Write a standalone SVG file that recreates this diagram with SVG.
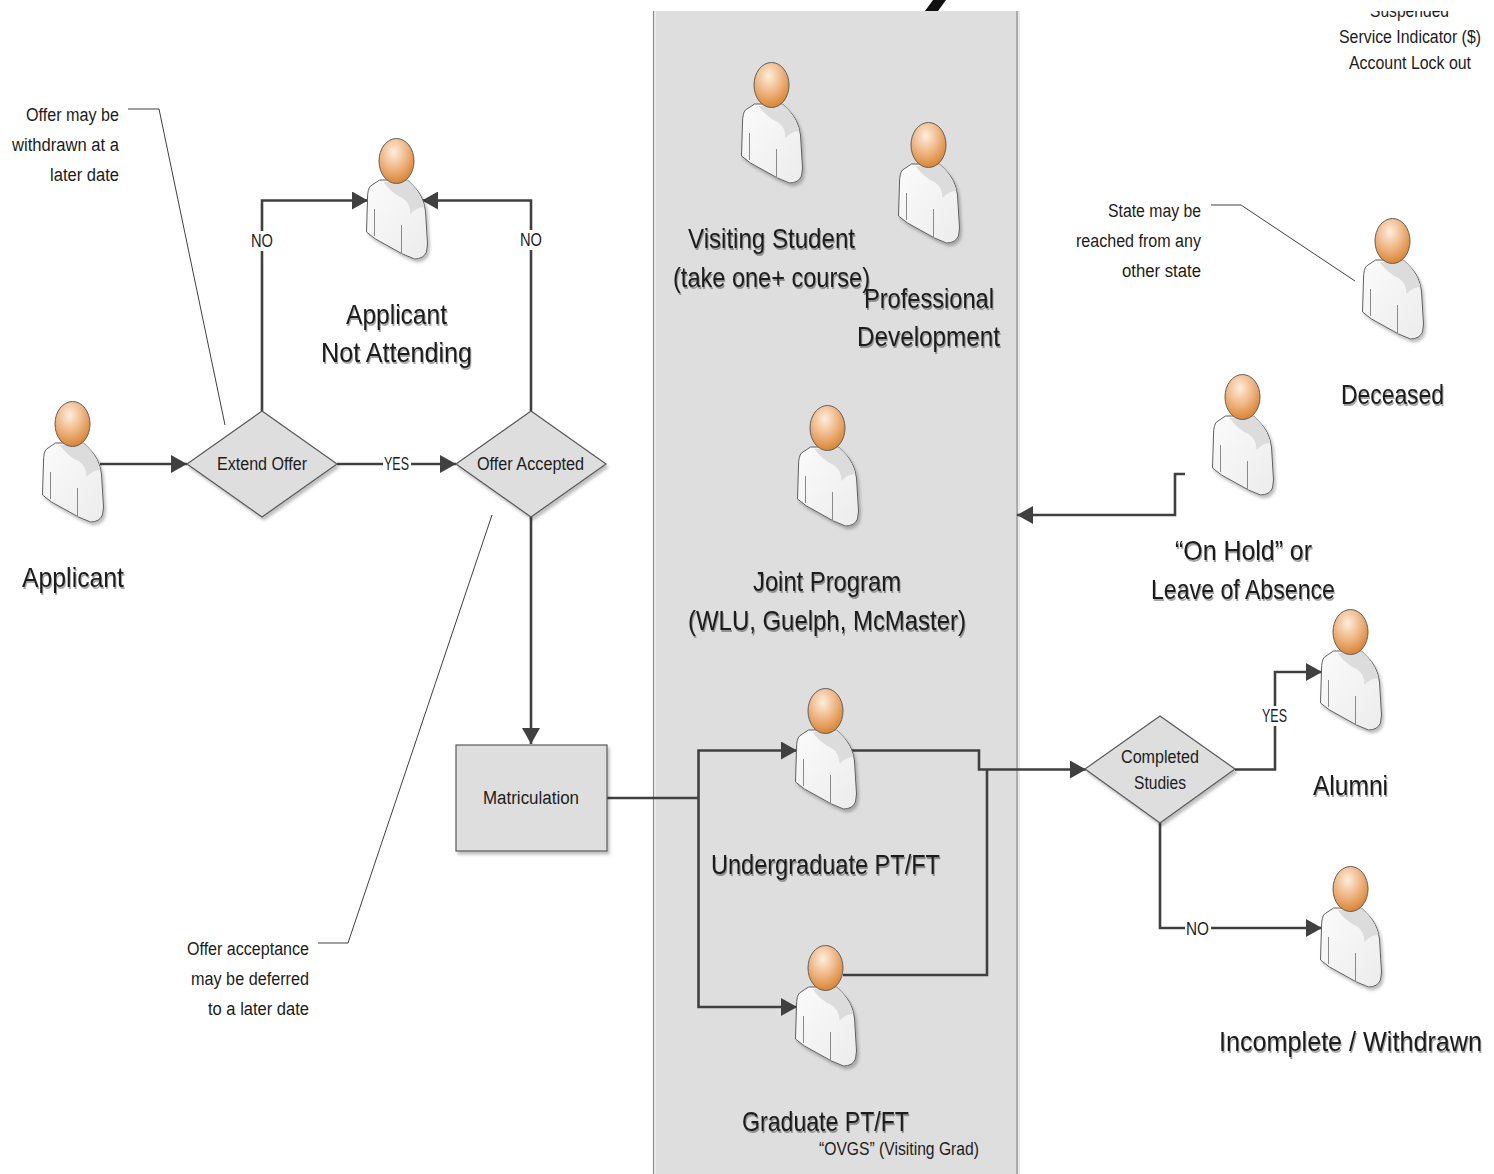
<svg xmlns="http://www.w3.org/2000/svg" width="1494" height="1174" viewBox="0 0 1494 1174">
<style>
text{font-family:"Liberation Sans",Arial,sans-serif;fill:#1c1c1c}
.s{font-size:18px}
.b{font-size:28px;filter:url(#ts)}
.c{fill:none;stroke:#404040;stroke-width:2.6}
.a{fill:none;stroke:#404040;stroke-width:1}
.d{fill:#dedede;stroke:#595959;stroke-width:1.2;filter:url(#sh)}
.lb{fill:#fff}
</style>
<defs>
<radialGradient id="hg" cx="0.42" cy="0.3" r="0.72"><stop offset="0" stop-color="#fdeedd"/><stop offset="0.5" stop-color="#f0b888"/><stop offset="1" stop-color="#d8822f"/></radialGradient>
<linearGradient id="bg" x1="0" y1="0" x2="1" y2="1"><stop offset="0" stop-color="#fbfbfb"/><stop offset="1" stop-color="#ececec"/></linearGradient>
<filter id="sh" x="-20%" y="-20%" width="140%" height="140%"><feDropShadow dx="2" dy="3" stdDeviation="1.5" flood-color="#000" flood-opacity="0.25"/></filter>
<filter id="ts" x="-10%" y="-30%" width="120%" height="180%"><feDropShadow dx="1" dy="2" stdDeviation="0.7" flood-color="#000" flood-opacity="0.35"/></filter>
<marker id="ah" markerUnits="userSpaceOnUse" markerWidth="17" markerHeight="18" refX="16" refY="9" orient="auto"><path d="M0 0L16 9L0 18Z" fill="#404040"/></marker>
<clipPath id="topclip"><rect x="1300" y="11" width="194" height="40"/></clipPath>
<symbol id="person" overflow="visible" viewBox="-32 -24 66 124" width="66" height="124">
<path d="M-17 19L-26 25Q-29 28-29 38L-30 71L-21 78L6 93L18 98Q27 98 30 91L31 83L29 50Q27 34 16 24L11 19Z" fill="url(#bg)" stroke="#5f5f5f" stroke-width="1" filter="url(#sh)"/>
<path d="M-13 21Q-4 33 6 37Q14 42 14 53Q20 46 28 46Q24 32 16 24L11 19.500Z" fill="#dcdcdc"/>
<path d="M-22 48L-22 75M5 64L5 93" fill="none" stroke="#8a8a8a" stroke-width="1"/>
<ellipse cx="0" cy="0" rx="17.5" ry="22.5" fill="url(#hg)" stroke="#5f5f5f" stroke-width="1"/>
</symbol>
</defs>
<rect width="1494" height="1174" fill="#fff"/>
<g id="panel">
<rect x="654" y="11" width="364" height="1163" fill="#dedede"/>
<rect x="654" y="11" width="2" height="1163" fill="#eaeaea"/>
<rect x="1018" y="11" width="2" height="1163" fill="#e8e8e8"/>
<path d="M653.500 11V1174M1017 11V1174" stroke="#8d8d8d" stroke-width="1.200" fill="none"/>
<path d="M925 11L938 11L946 0L933 0Z" fill="#111"/>
</g>
<g id="connectors">
<path class="c" d="M100 464H187" marker-end="url(#ah)"/>
<path class="c" d="M337 464H456" marker-end="url(#ah)"/>
<path class="c" d="M262 411V200.500H368" marker-end="url(#ah)"/>
<path class="c" d="M531 411V200.500H422" marker-end="url(#ah)"/>
<path class="c" d="M531 517V744" marker-end="url(#ah)"/>
<path class="c" d="M607 798H698"/>
<path class="c" d="M698.500 798V750.500H797" marker-end="url(#ah)"/>
<path class="c" d="M698.500 798V1007H797" marker-end="url(#ah)"/>
<path class="c" d="M852 750.500H979V769.500H1086" marker-end="url(#ah)"/>
<path class="c" d="M843 975H987V769.500"/>
<path class="c" d="M1235 769.500H1275V672H1322" marker-end="url(#ah)"/>
<path class="c" d="M1160 823V928H1322" marker-end="url(#ah)"/>
<path class="c" d="M1185 474H1175V515H1017" marker-end="url(#ah)"/>
<path class="a" d="M128 109H159L225 425"/>
<path class="a" d="M318 943H348L492 515"/>
<path class="a" d="M1211 205H1241L1355 281"/>
<rect class="lb" x="249" y="231" width="26" height="20"/><text class="s" x="251" y="247" textLength="22" lengthAdjust="spacingAndGlyphs">NO</text>
<rect class="lb" x="518" y="230" width="26" height="20"/><text class="s" x="520" y="246" textLength="22" lengthAdjust="spacingAndGlyphs">NO</text>
<rect class="lb" x="383" y="454" width="28" height="20"/><text class="s" x="384" y="470" textLength="25" lengthAdjust="spacingAndGlyphs">YES</text>
<rect class="lb" x="1261" y="706" width="28" height="20"/><text class="s" x="1262" y="722" textLength="25" lengthAdjust="spacingAndGlyphs">YES</text>
<rect class="lb" x="1185" y="919" width="26" height="20"/><text class="s" x="1186" y="935" textLength="23" lengthAdjust="spacingAndGlyphs">NO</text>
</g>
<g id="applicant"><use href="#person" x="40.500" y="400"/><text class="b" x="22" y="587" textLength="102" lengthAdjust="spacingAndGlyphs">Applicant</text></g>
<g id="extend-offer"><polygon class="d" points="187,464 262,411 337,464 262,517"/><text class="s" x="217" y="470" textLength="90" lengthAdjust="spacingAndGlyphs">Extend Offer</text></g>
<g id="offer-accepted"><polygon class="d" points="456,464 531,411 606,464 531,517"/><text class="s" x="477" y="470" textLength="107" lengthAdjust="spacingAndGlyphs">Offer Accepted</text></g>
<g id="not-attending"><use href="#person" x="364.500" y="137"/><text class="b" x="346" y="323.500" textLength="101" lengthAdjust="spacingAndGlyphs">Applicant</text><text class="b" x="321" y="361.500" textLength="151" lengthAdjust="spacingAndGlyphs">Not Attending</text></g>
<g id="matriculation"><rect class="d" x="456" y="745" width="151" height="106"/><text class="s" x="483" y="804" textLength="96" lengthAdjust="spacingAndGlyphs">Matriculation</text></g>
<g id="visiting-student"><use href="#person" x="739.500" y="61"/><text class="b" x="688" y="247.500" textLength="167" lengthAdjust="spacingAndGlyphs">Visiting Student</text><text class="b" x="673" y="286.500" textLength="197" lengthAdjust="spacingAndGlyphs">(take one+ course)</text></g>
<g id="professional-development"><use href="#person" x="896.500" y="121"/><text class="b" x="864" y="307.500" textLength="130" lengthAdjust="spacingAndGlyphs">Professional</text><text class="b" x="857" y="345.500" textLength="143" lengthAdjust="spacingAndGlyphs">Development</text></g>
<g id="joint-program"><use href="#person" x="795.500" y="404"/><text class="b" x="753" y="590.500" textLength="148" lengthAdjust="spacingAndGlyphs">Joint Program</text><text class="b" x="688" y="629.500" textLength="278" lengthAdjust="spacingAndGlyphs">(WLU, Guelph, McMaster)</text></g>
<g id="undergraduate"><use href="#person" x="793.500" y="687"/><text class="b" x="711" y="873.500" textLength="229" lengthAdjust="spacingAndGlyphs">Undergraduate PT/FT</text></g>
<g id="graduate"><use href="#person" x="793.500" y="944"/><text class="b" x="742" y="1130.500" textLength="167" lengthAdjust="spacingAndGlyphs">Graduate PT/FT</text><text class="s" x="819" y="1155" textLength="160" lengthAdjust="spacingAndGlyphs">“OVGS” (Visiting Grad)</text></g>
<g id="deceased"><use href="#person" x="1360.500" y="217"/><text class="b" x="1341" y="403.500" textLength="103" lengthAdjust="spacingAndGlyphs">Deceased</text></g>
<g id="on-hold"><use href="#person" x="1210.500" y="373"/><text class="b" x="1175" y="559.500" textLength="137" lengthAdjust="spacingAndGlyphs">“On Hold” or</text><text class="b" x="1151" y="598.500" textLength="184" lengthAdjust="spacingAndGlyphs">Leave of Absence</text></g>
<g id="completed-studies"><polygon class="d" points="1085,769 1160,716 1235,769 1160,823"/><text class="s" x="1121" y="763" textLength="78" lengthAdjust="spacingAndGlyphs">Completed</text><text class="s" x="1134" y="789" textLength="52" lengthAdjust="spacingAndGlyphs">Studies</text></g>
<g id="alumni"><use href="#person" x="1318.500" y="608"/><text class="b" x="1313" y="794.500" textLength="75" lengthAdjust="spacingAndGlyphs">Alumni</text></g>
<g id="incomplete"><use href="#person" x="1318.500" y="865"/><text class="b" x="1219" y="1050.500" textLength="263" lengthAdjust="spacingAndGlyphs">Incomplete / Withdrawn</text></g>
<g id="notes">
<text class="s" x="26" y="121" textLength="93" lengthAdjust="spacingAndGlyphs">Offer may be</text>
<text class="s" x="12" y="151" textLength="107" lengthAdjust="spacingAndGlyphs">withdrawn at a</text>
<text class="s" x="50" y="181" textLength="69" lengthAdjust="spacingAndGlyphs">later date</text>
<text class="s" x="187" y="955" textLength="122" lengthAdjust="spacingAndGlyphs">Offer acceptance</text>
<text class="s" x="191" y="985" textLength="118" lengthAdjust="spacingAndGlyphs">may be deferred</text>
<text class="s" x="208" y="1015" textLength="101" lengthAdjust="spacingAndGlyphs">to a later date</text>
<text class="s" x="1108" y="217" textLength="93" lengthAdjust="spacingAndGlyphs">State may be</text>
<text class="s" x="1076" y="247" textLength="125" lengthAdjust="spacingAndGlyphs">reached from any</text>
<text class="s" x="1122" y="277" textLength="79" lengthAdjust="spacingAndGlyphs">other state</text>
<g clip-path="url(#topclip)"><text class="s" x="1370" y="17" textLength="79" lengthAdjust="spacingAndGlyphs">Suspended</text></g>
<text class="s" x="1339" y="43" textLength="142" lengthAdjust="spacingAndGlyphs">Service Indicator ($)</text>
<text class="s" x="1349" y="69" textLength="122" lengthAdjust="spacingAndGlyphs">Account Lock out</text>
</g>
</svg>
